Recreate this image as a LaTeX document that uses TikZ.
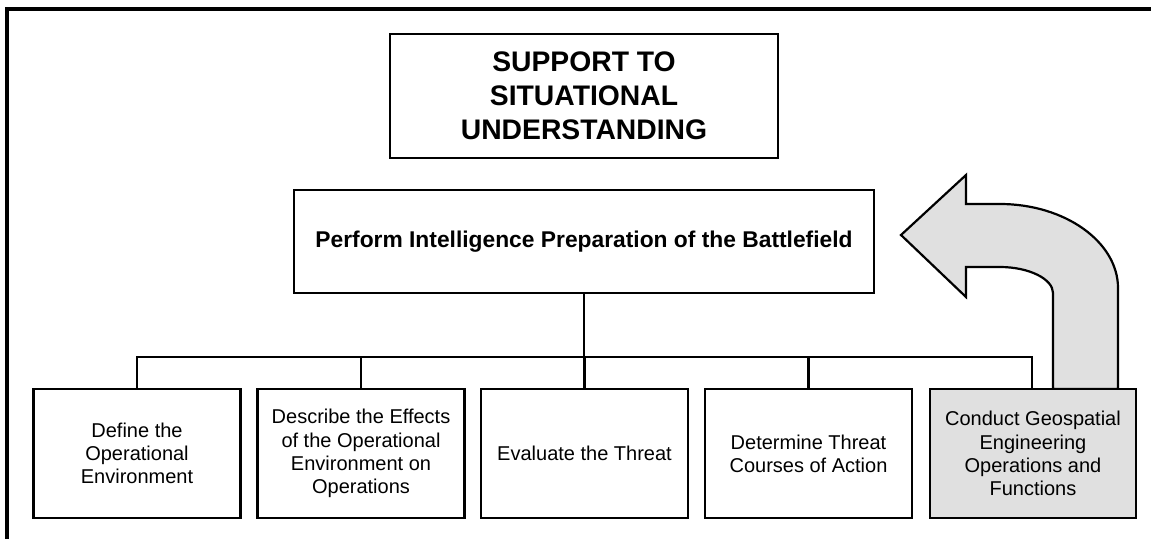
\documentclass[tikz,border=0pt]{standalone}
\usepackage{fontspec}
\setmainfont{Liberation Sans}
\begin{document}
\begin{tikzpicture}[x=1pt,y=-1pt,
  box/.style={draw=black,line width=2.6pt,fill=white,inner sep=0pt,align=center},
  subbox/.style={box,minimum width=207pt,minimum height=129pt,font=\fontsize{20}{23.3}\selectfont},
  link/.style={line width=2.6pt},
  bigarrow/.style={draw=black,line width=2.2pt,fill=black!12,line join=miter}]
\useasboundingbox (0,0) rectangle (1151,539);
\fill[white] (0,0) rectangle (1151,539);
% outer frame (right and bottom edges lie outside the picture)
\draw[line width=3.2pt] (1151,9) -- (7,9) -- (7,539);

\node[box,minimum width=388pt,minimum height=124pt,font=\bfseries\fontsize{28.3}{34}\selectfont] (top) at (584,96)
  {SUPPORT TO\\SITUATIONAL\\UNDERSTANDING};
\node[box,minimum width=580pt,minimum height=103pt,font=\bfseries\fontsize{22.8}{26}\selectfont] (mid) at (584,241.5)
  {Perform Intelligence Preparation of the Battlefield};

% curved arrow
\coordinate (tip) at (901,235);
\path[bigarrow] (tip) -- (966,175) -- (966,204) -- (1000,204)
  .. controls (1065,204) and (1118,242) .. (1118,288) -- (1118,389)
  -- (1053,389) -- (1053,293)
  .. controls (1053,279) and (1029,267) .. (1000,267)
  -- (966,267) -- (966,297) -- cycle;

\node[subbox] (b1) at (137,453.5) {Define the\\Operational\\Environment};
\node[subbox] (b2) at (361,453.5) {Describe the Effects\\of the Operational\\Environment on\\Operations};
\node[subbox] (b3) at (584.5,453.5) {Evaluate the Threat};
\node[subbox] (b4) at (808.5,453.5) {Determine Threat\\Courses of Action};
\node[subbox,fill=black!12,minimum width=206pt] (b5) at (1033,453.5) {Conduct Geospatial\\Engineering\\Operations and\\Functions};

\coordinate (j) at (584,357);
\draw[link] (mid.south) -- (j);
\draw[link] (b1.north) -- (b1.north |- j) -- ([xshift=-1pt]b5.north |- j) -- ([xshift=-1pt]b5.north);
\draw[link] (b2.north) -- (b2.north |- j);
\draw[link] (b3.north) -- (b3.north |- j);
\draw[link] (b4.north) -- (b4.north |- j);
\end{tikzpicture}
\end{document}
